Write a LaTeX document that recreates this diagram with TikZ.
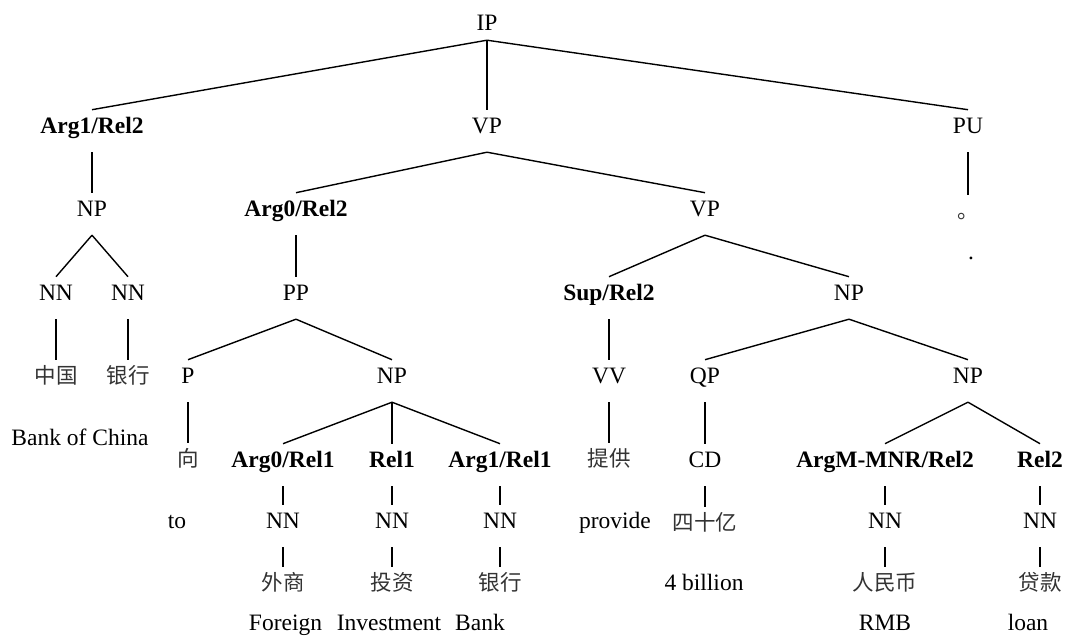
\documentclass[tikz,border=0pt]{standalone}
\usepackage{fontspec}
\setmainfont{Liberation Serif}
\newfontfamily\cjk{Noto Sans CJK SC}
\newcommand{\tr}{\fontsize{23.5}{28}\selectfont}
\newcommand{\tb}{\fontsize{23.5}{28}\selectfont\bfseries}
\newcommand{\tc}{\fontsize{21.5}{26}\cjk}
\begin{document}
\begin{tikzpicture}[x=1pt,y=-1pt,
  t/.style={anchor=base, inner xsep=1pt, inner ysep=7.5pt, text height=15.6pt, text depth=11.5pt, font=\tr},
  tbold/.style={t, font=\tb},
  tcjk/.style={t, font=\tc, text=black!80},
  lbl/.style={anchor=base, inner sep=0pt, font=\tr},
  conn/.style={line width=1.4pt}]
\useasboundingbox (0,0) rectangle (1066,635);
% row 1
\node[t, text depth=2.5pt] (ip) at (487,30) {IP};
% row 2
\node[tbold] (a12) at (92,133) {Arg1/Rel2};
\node[t] (vp1) at (487,133) {VP};
\node[t] (pu) at (968,133) {PU};
% row 3
\node[t] (np1) at (92,216) {NP};
\node[tbold] (a02) at (296,216) {Arg0/Rel2};
\node[t] (vp2) at (705,216) {VP};
\node[tcjk] (stop) at (968,218) {。};
\node[lbl] (per) at (971,259) {.};
% row 4
\node[t] (nn1) at (56,300) {NN};
\node[t] (nn2) at (128,300) {NN};
\node[t] (pp) at (296,300) {PP};
\node[tbold] (sup) at (609,300) {Sup/Rel2};
\node[t] (np2) at (849,300) {NP};
% row 5
\node[tcjk] (zg) at (56,383) {中国};
\node[tcjk] (yh) at (128,383) {银行};
\node[t] (p) at (188,383) {P};
\node[t] (np3) at (392,383) {NP};
\node[t] (vv) at (609,383) {VV};
\node[t] (qp) at (705,383) {QP};
\node[t] (np4) at (968,383) {NP};
\node[lbl] (boc) at (80,445) {Bank of China};
% row 6
\node[tcjk] (xiang) at (188,466) {向};
\node[tbold] (a01) at (283,467) {Arg0/Rel1};
\node[tbold] (r1) at (392,467) {Rel1};
\node[tbold] (a11) at (500,467) {Arg1/Rel1};
\node[tcjk] (tg) at (609,466) {提供};
\node[t] (cd) at (705,467) {CD};
\node[tbold] (amnr) at (885,467) {ArgM-MNR/Rel2};
\node[tbold] (r2) at (1040,467) {Rel2};
% row 7
\node[lbl] (to) at (177,528) {to};
\node[t] (nn3) at (283,528) {NN};
\node[t] (nn4) at (392,528) {NN};
\node[t] (nn5) at (500,528) {NN};
\node[lbl] (prov) at (615,528) {provide};
\node[tcjk] (ssy) at (705,530) {四十亿};
\node[t] (nn6) at (885,528) {NN};
\node[t] (nn7) at (1040,528) {NN};
% row 8
\node[tcjk] (ws) at (283,590) {外商};
\node[tcjk] (tz) at (392,590) {投资};
\node[tcjk] (yh2) at (500,590) {银行};
\node[lbl] (fourb) at (704,590) {4 billion};
\node[tcjk] (rmb) at (885,590) {人民币};
\node[tcjk] (dk) at (1040,590) {贷款};
% row 9
\node[lbl] (foreign) at (285.5,630) {Foreign};
\node[lbl] (invest) at (389,630) {Investment};
\node[lbl] (bank) at (480,630) {Bank};
\node[lbl] (rmbl) at (885,630) {RMB};
\node[lbl] (loan) at (1028,630) {loan};
% connectors
\draw[conn] (ip.south) -- (a12.north);
\draw[conn] (ip.south) -- (vp1.north);
\draw[conn] (ip.south) -- (pu.north);
\draw[conn] (a12.south) -- (np1.north);
\draw[conn] (vp1.south) -- (a02.north);
\draw[conn] (vp1.south) -- (vp2.north);
\draw[conn] (pu.south) -- (stop.north);
\draw[conn] (np1.south) -- (nn1.north);
\draw[conn] (np1.south) -- (nn2.north);
\draw[conn] (a02.south) -- (pp.north);
\draw[conn] (vp2.south) -- (sup.north);
\draw[conn] (vp2.south) -- (np2.north);
\draw[conn] (nn1.south) -- (zg.north);
\draw[conn] (nn2.south) -- (yh.north);
\draw[conn] (pp.south) -- (p.north);
\draw[conn] (pp.south) -- (np3.north);
\draw[conn] (sup.south) -- (vv.north);
\draw[conn] (np2.south) -- (qp.north);
\draw[conn] (np2.south) -- (np4.north);
\draw[conn] (p.south) -- (xiang.north);
\draw[conn] (np3.south) -- (a01.north);
\draw[conn] (np3.south) -- (r1.north);
\draw[conn] (np3.south) -- (a11.north);
\draw[conn] (vv.south) -- (tg.north);
\draw[conn] (qp.south) -- (cd.north);
\draw[conn] (np4.south) -- (amnr.north);
\draw[conn] (np4.south) -- (r2.north);
\draw[conn] (a01.south) -- (nn3.north);
\draw[conn] (r1.south) -- (nn4.north);
\draw[conn] (a11.south) -- (nn5.north);
\draw[conn] (cd.south) -- (ssy.north);
\draw[conn] (amnr.south) -- (nn6.north);
\draw[conn] (r2.south) -- (nn7.north);
\draw[conn] (nn3.south) -- (ws.north);
\draw[conn] (nn4.south) -- (tz.north);
\draw[conn] (nn5.south) -- (yh2.north);
\draw[conn] (nn6.south) -- (rmb.north);
\draw[conn] (nn7.south) -- (dk.north);
\end{tikzpicture}
\end{document}
